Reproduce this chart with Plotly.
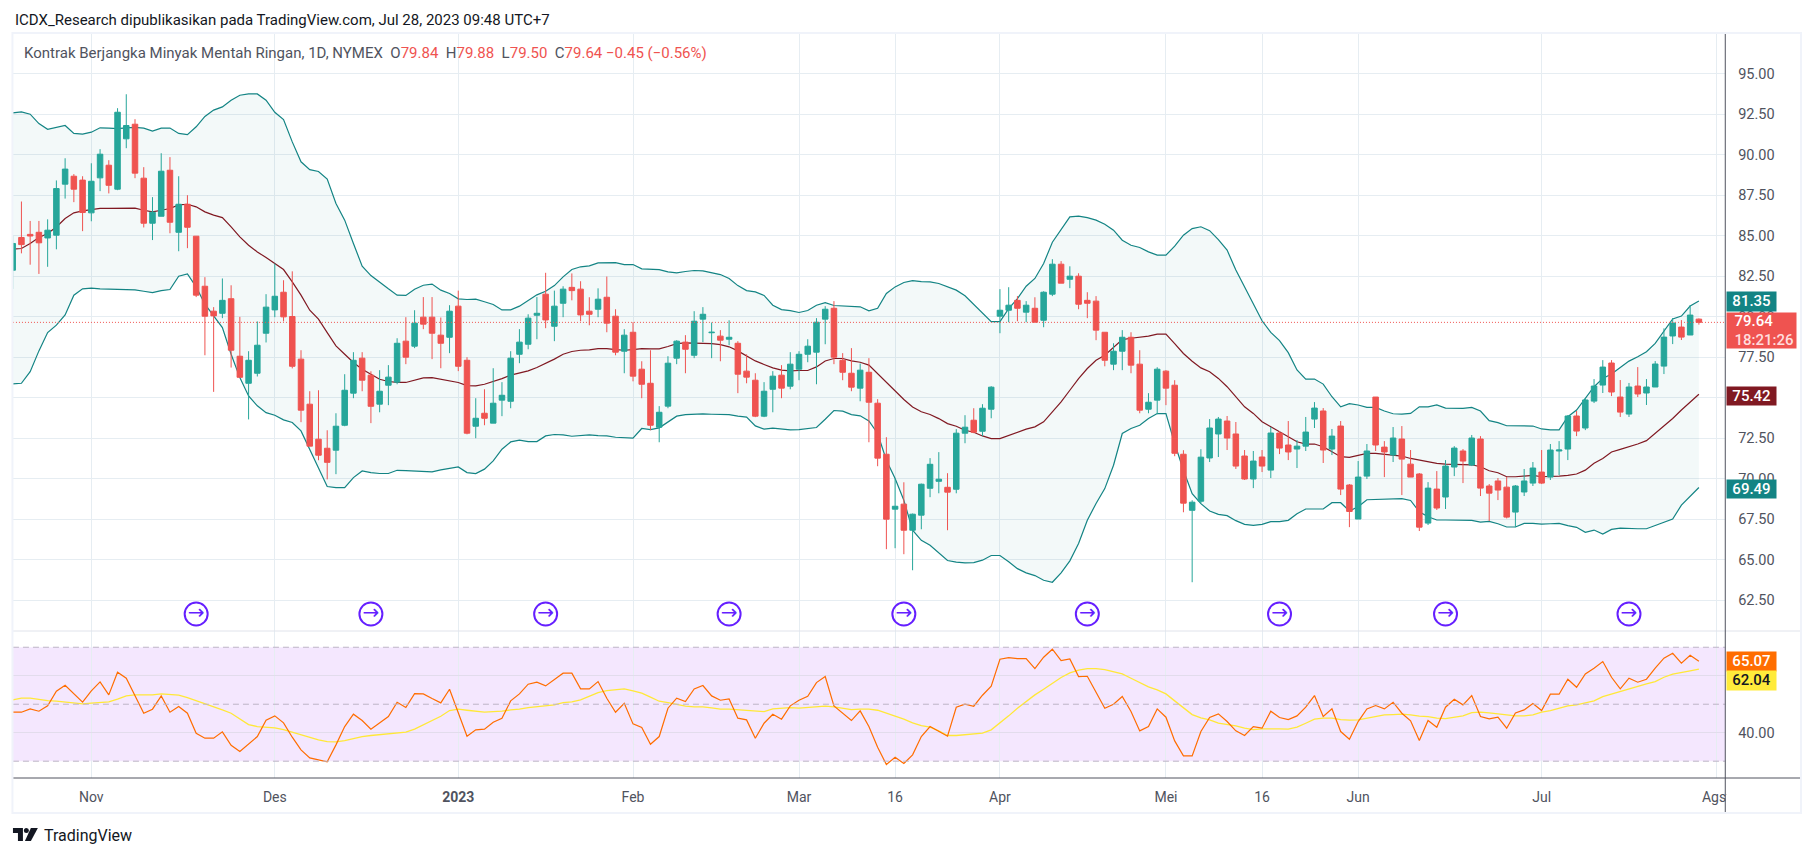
import pandas as pd
import plotly.graph_objects as go

W, H = 1815, 857

holidays = ["2022-11-24", "2022-12-26", "2023-01-02", "2023-01-16", "2023-02-20",
            "2023-04-07", "2023-05-29", "2023-06-19", "2023-07-04"]
all_days = [d.strftime("%Y-%m-%d") for d in pd.bdate_range("2022-10-19", "2023-08-03")]
all_days = [d for d in all_days if d not in holidays]
dates = all_days[:194]

open_ = [82.86, 84.88, 85.07, 85.2, 84.85, 85.02, 88.17, 88.66, 88.42, 86.4,
         88.56, 89.34, 87.86, 90.97, 91.87, 88.54, 85.76, 86.19, 89.03, 85.2,
         86.93, 84.96, 81.87, 80.33, 80.2, 81.1, 77.55, 75.88, 76.5, 78.97,
         80.41, 81.5, 80.0, 77.37, 74.59, 72.43, 71.87, 71.75, 73.29, 75.27,
         77.43, 76.38, 74.59, 75.76, 75.95, 78.48, 78.17, 79.96, 79.96, 78.85,
         78.72, 80.64, 77.3, 73.23, 74.03, 73.42, 74.84, 74.77, 77.67, 78.29,
         80.08, 81.38, 79.4, 80.82, 81.8, 81.69, 80.33, 80.45, 81.19, 80.02,
         77.86, 79.03, 76.75, 75.88, 73.17, 74.47, 77.43, 78.42, 77.61, 79.84,
         79.0, 78.79, 78.6, 78.35, 76.63, 76.07, 73.85, 75.51, 76.38, 75.7,
         76.75, 77.67, 77.8, 79.84, 80.51, 77.3, 76.5, 75.58, 76.56, 74.65,
         71.5, 68.11, 68.42, 66.81, 67.74, 69.4, 69.83, 69.46, 69.34, 72.8,
         73.6, 72.92, 74.28, 80.02, 80.39, 81.0, 80.27, 80.51, 79.77, 81.38,
         83.23, 82.3, 82.49, 81.0, 80.95, 79.03, 77.06, 77.86, 78.72, 77.06,
         74.28, 74.84, 76.63, 75.76, 71.5, 68.04, 68.6, 71.27, 72.75, 73.55,
         72.75, 71.39, 69.97, 71.33, 70.52, 72.81, 72.07, 71.82, 72.0, 73.67,
         74.17, 71.82, 73.24, 69.6, 67.5, 70.15, 75.03, 71.94, 71.45, 72.44,
         70.89, 70.28, 67.25, 69.35, 68.86, 70.71, 71.7, 70.83, 72.44, 69.54,
         69.85, 69.47, 67.93, 69.17, 69.72, 70.4, 70.09, 71.7, 71.82, 73.86,
         73.12, 74.78, 75.77, 77.13, 75.03, 73.98, 75.71, 75.28, 75.65, 76.94,
         78.8, 79.35, 78.86, 79.84]
high = [85.0, 87.1, 85.9, 85.9, 86.0, 88.4, 89.77, 88.79, 88.66, 89.46,
        90.33, 89.65, 92.86, 93.72, 92.18, 89.22, 87.37, 90.08, 89.84, 88.66,
        87.49, 84.96, 82.43, 80.58, 82.35, 81.93, 79.98, 77.86, 79.7, 81.38,
        83.27, 82.24, 82.79, 77.92, 75.39, 75.45, 72.98, 74.03, 76.44, 77.8,
        77.8, 76.62, 76.69, 77.0, 78.66, 79.96, 80.39, 81.2, 81.2, 79.94,
        80.7, 81.6, 77.49, 74.96, 75.51, 76.81, 75.95, 77.86, 79.22, 80.14,
        81.2, 82.7, 81.6, 81.87, 82.66, 82.18, 81.19, 81.74, 82.47, 80.45,
        79.22, 79.65, 77.24, 77.92, 74.47, 77.55, 78.54, 78.85, 80.33, 80.58,
        79.63, 79.16, 79.77, 78.48, 77.67, 76.5, 75.95, 76.63, 77.0, 77.8,
        77.86, 78.6, 79.9, 80.64, 80.95, 77.74, 78.05, 77.1, 77.43, 74.9,
        72.55, 70.0, 69.77, 67.84, 69.69, 71.26, 71.63, 70.33, 73.05, 73.91,
        74.34, 74.59, 75.7, 81.69, 81.81, 81.26, 80.95, 81.19, 81.56, 83.54,
        83.42, 83.1, 82.67, 81.5, 81.26, 79.03, 78.35, 79.16, 79.03, 77.92,
        75.27, 76.87, 76.69, 76.07, 71.75, 68.66, 71.81, 73.67, 73.8, 73.86,
        73.49, 71.76, 71.7, 71.76, 73.18, 72.93, 73.55, 72.38, 73.8, 74.72,
        74.35, 73.06, 73.55, 69.66, 71.08, 72.13, 75.03, 72.31, 73.18, 73.24,
        71.76, 70.34, 69.78, 70.46, 71.14, 72.0, 71.82, 72.69, 72.62, 69.66,
        70.03, 70.09, 69.6, 70.59, 71.02, 71.76, 72.13, 72.31, 73.92, 74.17,
        74.97, 76.14, 77.31, 77.31, 76.08, 75.9, 76.88, 76.14, 77.25, 79.27,
        79.91, 79.78, 80.71, 79.88]
low = [81.7, 83.9, 83.2, 82.63, 83.07, 84.15, 87.28, 87.06, 85.27, 85.88,
       87.74, 87.6, 87.8, 90.39, 88.54, 85.5, 84.72, 86.19, 85.14, 84.03,
       84.22, 81.2, 77.61, 75.35, 79.9, 76.85, 76.25, 73.65, 76.3, 78.4,
       79.96, 79.7, 76.8, 73.48, 72.0, 71.13, 69.95, 70.27, 73.23, 74.96,
       75.39, 73.42, 74.09, 74.53, 75.82, 77.06, 78.05, 79.22, 77.37, 76.81,
       77.74, 76.63, 72.73, 72.49, 73.29, 73.42, 73.85, 74.34, 77.12, 77.98,
       78.6, 79.28, 78.48, 79.96, 81.0, 79.71, 79.46, 79.96, 79.03, 77.61,
       76.5, 76.0, 74.96, 72.98, 72.24, 74.34, 77.06, 76.5, 77.43, 78.42,
       77.43, 77.24, 78.23, 75.27, 75.88, 73.79, 73.79, 74.09, 74.96, 75.51,
       76.07, 77.18, 75.82, 78.29, 77.06, 76.07, 75.39, 74.77, 72.24, 70.76,
       65.64, 65.7, 65.33, 64.34, 66.87, 68.85, 69.09, 66.81, 69.09, 72.18,
       72.8, 72.61, 73.72, 78.97, 79.65, 79.71, 79.65, 79.65, 79.34, 81.26,
       82.06, 81.75, 80.45, 79.9, 78.54, 76.93, 76.69, 76.69, 76.5, 74.03,
       74.03, 73.97, 74.53, 71.38, 67.92, 63.6, 68.48, 71.02, 71.33, 71.76,
       70.59, 69.91, 69.41, 70.4, 70.03, 71.51, 71.14, 70.65, 71.7, 73.12,
       70.96, 71.45, 68.98, 67.0, 67.5, 69.97, 71.7, 70.09, 71.02, 68.98,
       70.09, 66.76, 67.13, 68.06, 68.12, 70.15, 69.72, 70.77, 68.92, 67.38,
       68.67, 67.54, 67.0, 68.92, 69.54, 69.66, 69.91, 70.22, 71.14, 72.62,
       72.99, 74.66, 75.28, 75.09, 73.8, 73.8, 75.03, 74.54, 75.65, 76.45,
       78.3, 78.55, 78.86, 79.5]
close = [84.51, 84.44, 84.97, 84.55, 85.33, 87.9, 89.1, 87.86, 86.42, 88.35,
         90.02, 88.1, 92.61, 91.79, 88.85, 85.76, 86.44, 88.97, 85.82, 86.93,
         85.51, 81.32, 80.02, 80.04, 81.0, 77.92, 76.25, 77.3, 78.23, 80.58,
         81.25, 79.98, 76.93, 74.22, 72.0, 71.44, 71.0, 73.23, 75.45, 77.3,
         76.07, 74.46, 75.39, 76.26, 78.35, 77.49, 79.59, 79.53, 78.97, 78.35,
         80.33, 76.93, 72.8, 73.72, 73.72, 74.65, 75.14, 77.43, 78.42, 79.9,
         80.2, 79.79, 80.64, 81.69, 81.6, 80.1, 80.14, 81.07, 79.59, 77.8,
         78.85, 76.32, 75.82, 73.29, 74.09, 77.12, 78.48, 77.98, 79.71, 80.14,
         79.03, 78.54, 78.72, 76.44, 76.26, 73.85, 75.39, 76.32, 75.58, 77.06,
         77.67, 78.17, 79.65, 80.45, 77.49, 76.56, 75.64, 76.69, 74.71, 71.26,
         67.49, 68.29, 66.81, 67.8, 69.65, 70.88, 69.96, 69.16, 72.8, 73.17,
         72.86, 74.34, 75.64, 80.39, 80.7, 80.51, 80.7, 79.65, 81.5, 83.23,
         82.06, 82.49, 80.76, 80.82, 79.16, 77.3, 77.86, 78.72, 77.0, 74.22,
         74.71, 76.75, 75.58, 71.56, 68.48, 68.54, 71.32, 73.12, 73.67, 72.5,
         70.77, 69.97, 71.08, 70.77, 72.81, 71.88, 71.64, 72.0, 72.87, 74.35,
         71.76, 72.62, 69.35, 67.97, 70.09, 71.7, 72.07, 71.64, 72.5, 71.2,
         70.09, 67.0, 69.41, 68.18, 70.77, 71.88, 71.08, 72.5, 69.41, 69.1,
         69.29, 67.62, 69.54, 69.85, 70.65, 69.72, 71.76, 71.76, 73.86, 72.93,
         74.85, 75.71, 76.88, 75.34, 74.1, 75.65, 75.22, 75.65, 77.07, 78.73,
         79.6, 78.73, 80.09, 79.64]

bb_upper = [92.57, 92.63, 92.49, 91.91, 91.56, 91.69, 91.79, 91.3, 91.26, 91.38,
            91.65, 91.63, 91.6, 91.65, 91.67, 91.63, 91.44, 91.63, 91.63, 91.3,
            91.23, 91.71, 92.35, 92.74, 92.94, 93.35, 93.66, 93.74, 93.74, 93.35,
            92.61, 92.16, 90.78, 89.55, 89.07, 88.95, 88.48, 86.98, 85.95, 84.51,
            83.11, 82.53, 82.1, 81.71, 81.32, 81.3, 81.69, 81.93, 82.0, 81.63,
            81.42, 81.09, 81.05, 81.07, 80.91, 80.74, 80.41, 80.41, 80.64, 81.01,
            81.34, 81.56, 81.91, 82.45, 82.9, 83.07, 83.13, 83.31, 83.33, 83.33,
            83.21, 83.21, 82.94, 82.94, 82.9, 82.76, 82.7, 82.78, 82.84, 82.82,
            82.7, 82.59, 82.35, 81.91, 81.6, 81.52, 81.3, 80.7, 80.43, 80.37,
            80.25, 80.37, 80.7, 80.86, 80.68, 80.66, 80.64, 80.6, 80.35, 80.51,
            81.42, 81.83, 82.1, 82.22, 82.16, 82.14, 82.04, 81.83, 81.63, 81.28,
            80.76, 80.25, 79.69, 79.69, 80.49, 81.11, 81.87, 82.35, 83.27, 84.59,
            85.4, 86.15, 86.2, 86.1, 85.95, 85.7, 85.33, 84.71, 84.4, 84.26,
            83.99, 83.79, 83.79, 84.34, 85.02, 85.43, 85.54, 85.3, 84.75, 84.1,
            82.87, 81.84, 80.81, 79.74, 79.02, 78.51, 77.77, 76.7, 76.14, 76.14,
            75.83, 75.05, 74.43, 74.62, 74.54, 74.39, 74.39, 74.17, 74.0, 73.98,
            74.02, 74.43, 74.43, 74.54, 74.35, 74.33, 74.33, 74.39, 74.17, 73.57,
            73.45, 73.26, 73.26, 73.22, 73.24, 73.06, 73.01, 73.01, 73.82, 74.23,
            74.95, 75.67, 76.18, 76.45, 76.86, 77.25, 77.52, 77.83, 78.34, 79.06,
            79.85, 80.03, 80.65, 80.96]
bb_basis = [84.16, 84.2, 84.51, 84.88, 85.12, 85.53, 86.05, 86.4, 86.52, 86.6,
            86.67, 86.67, 86.67, 86.69, 86.69, 86.56, 86.46, 86.56, 86.67, 86.89,
            86.93, 86.77, 86.46, 86.26, 86.11, 85.53, 84.92, 84.4, 83.99, 83.64,
            83.27, 82.9, 82.14, 81.32, 80.39, 79.84, 79.01, 78.19, 77.67, 77.16,
            76.75, 76.44, 76.13, 75.99, 75.93, 75.93, 76.09, 76.21, 76.23, 76.13,
            76.07, 75.93, 75.74, 75.72, 75.82, 75.99, 76.17, 76.38, 76.5, 76.65,
            76.85, 77.1, 77.37, 77.67, 77.84, 77.92, 77.94, 78.02, 78.02, 77.96,
            77.92, 77.96, 78.02, 78.0, 78.0, 78.15, 78.33, 78.37, 78.37, 78.37,
            78.33, 78.27, 78.13, 77.88, 77.55, 77.26, 77.04, 76.83, 76.69, 76.65,
            76.67, 76.67, 76.89, 77.26, 77.41, 77.41, 77.26, 77.18, 77.0, 76.48,
            75.91, 75.41, 74.88, 74.42, 74.12, 73.95, 73.7, 73.39, 73.23, 72.98,
            72.86, 72.63, 72.47, 72.47, 72.67, 72.84, 73.05, 73.19, 73.5, 74.12,
            74.73, 75.45, 76.17, 76.79, 77.3, 77.61, 78.09, 78.58, 78.66, 78.72,
            78.79, 78.91, 78.91, 78.33, 77.72, 77.24, 76.83, 76.59, 76.18, 75.67,
            75.05, 74.43, 74.02, 73.51, 73.2, 72.89, 72.58, 72.27, 72.13, 72.13,
            71.96, 71.66, 71.35, 71.31, 71.45, 71.55, 71.55, 71.51, 71.45, 71.39,
            71.24, 71.14, 71.04, 70.94, 70.89, 70.89, 70.85, 70.85, 70.73, 70.48,
            70.36, 70.11, 70.11, 70.15, 70.2, 70.11, 70.11, 70.15, 70.2, 70.28,
            70.52, 70.94, 71.24, 71.64, 71.8, 71.96, 72.13, 72.34, 72.79, 73.24,
            73.71, 74.23, 74.74, 75.2]
bb_lower = [75.84, 75.88, 76.6, 77.88, 79.01, 79.47, 80.1, 81.32, 81.71, 81.75,
            81.71, 81.69, 81.69, 81.69, 81.65, 81.56, 81.48, 81.6, 81.67, 82.49,
            82.63, 81.83, 80.76, 80.04, 79.32, 77.67, 76.23, 75.1, 74.49, 74.07,
            73.91, 73.62, 73.46, 72.94, 71.81, 70.58, 69.51, 69.44, 69.44, 70.06,
            70.47, 70.37, 70.31, 70.31, 70.51, 70.49, 70.47, 70.43, 70.41, 70.53,
            70.64, 70.72, 70.37, 70.31, 70.58, 71.09, 71.81, 72.26, 72.37, 72.28,
            72.28, 72.63, 72.72, 72.7, 72.61, 72.67, 72.7, 72.65, 72.63, 72.55,
            72.53, 72.49, 73.09, 73.02, 73.13, 73.5, 73.85, 73.95, 73.99, 73.99,
            73.97, 73.95, 73.95, 73.85, 73.79, 73.25, 73.05, 73.11, 73.05, 73.0,
            73.02, 73.07, 73.15, 73.66, 74.2, 74.16, 73.95, 73.87, 73.56, 72.78,
            71.13, 70.0, 68.66, 66.81, 66.19, 65.88, 65.41, 64.94, 64.84, 64.79,
            64.81, 64.96, 65.25, 65.25, 64.86, 64.44, 64.18, 64.01, 63.72, 63.6,
            64.18, 64.92, 65.99, 67.43, 68.46, 69.38, 70.82, 72.78, 73.09, 73.29,
            73.7, 74.01, 74.01, 72.16, 70.51, 69.07, 68.45, 68.0, 67.79, 67.71,
            67.4, 67.17, 67.11, 67.17, 67.34, 67.34, 67.42, 67.83, 68.12, 68.12,
            68.12, 68.51, 68.51, 68.0, 68.26, 68.69, 68.71, 68.73, 68.78, 68.76,
            68.65, 67.95, 67.64, 67.44, 67.44, 67.44, 67.44, 67.42, 67.31, 67.36,
            67.21, 67.01, 67.01, 67.23, 67.23, 67.19, 67.21, 67.23, 67.09, 66.99,
            66.68, 66.82, 66.57, 66.86, 66.94, 66.9, 66.9, 66.9, 67.11, 67.31,
            67.5, 68.36, 68.88, 69.45]

rsi = [47.19, 47.19, 48.36, 47.54, 49.42, 54.56, 56.67, 53.63, 50.7, 54.68,
       57.84, 53.27, 61.23, 59.12, 52.69, 46.84, 48.25, 52.92, 47.19, 49.18,
       46.84, 39.82, 38.07, 38.07, 40.29, 35.61, 33.39, 35.96, 38.65, 44.39,
       45.91, 43.45, 38.42, 33.98, 31.17, 30.47, 29.77, 35.73, 42.16, 46.49,
       44.27, 41.23, 43.45, 45.67, 50.7, 48.83, 53.74, 53.63, 51.99, 50.47,
       55.26, 46.84, 38.77, 40.99, 41.23, 43.68, 45.09, 51.17, 53.63, 57.02,
       57.72, 56.43, 58.54, 60.88, 60.88, 55.38, 55.38, 57.95, 52.11, 47.19,
       50.35, 43.1, 41.81, 35.96, 38.65, 48.6, 52.11, 50.94, 55.38, 56.55,
       52.92, 51.4, 51.87, 45.09, 44.5, 38.07, 43.33, 46.49, 44.74, 49.42,
       51.4, 52.81, 57.6, 59.71, 49.42, 46.84, 44.27, 47.66, 42.16, 34.91,
       28.83, 31.4, 29.18, 32.22, 38.65, 42.16, 40.41, 38.77, 48.95, 50.0,
       49.3, 53.16, 56.32, 65.79, 66.37, 66.02, 66.02, 62.51, 66.49, 69.3,
       65.32, 65.91, 59.71, 59.82, 54.21, 48.6, 50.0, 52.69, 47.43, 40.64,
       42.16, 48.36, 45.44, 37.13, 31.87, 31.87, 40.41, 45.32, 46.61, 43.92,
       40.64, 39.01, 42.16, 41.58, 47.54, 45.32, 44.62, 45.91, 48.95, 53.04,
       45.67, 48.36, 40.41, 37.72, 43.92, 48.36, 49.53, 48.36, 50.7, 46.84,
       44.15, 37.25, 44.27, 41.93, 48.95, 51.75, 49.77, 53.04, 45.67, 44.85,
       45.44, 41.58, 46.96, 48.01, 50.23, 47.78, 53.51, 53.51, 58.77, 55.96,
       60.64, 62.63, 64.97, 59.47, 55.38, 59.12, 57.72, 58.77, 62.63, 66.14,
       67.89, 64.39, 67.19, 65.07]
rsi_ma = [51.52, 52.11, 52.11, 51.64, 51.29, 51.05, 50.7, 50.35, 50.12, 50.35,
          50.58, 50.82, 51.75, 52.92, 53.27, 53.27, 53.27, 53.63, 53.51, 53.16,
          52.34, 51.29, 50.35, 49.18, 48.01, 46.84, 44.74, 42.87, 42.16, 42.05,
          41.7, 41.11, 40.18, 39.25, 38.19, 37.49, 36.9, 36.78, 37.25, 38.07,
          38.65, 39.01, 39.36, 39.59, 39.82, 40.18, 41.23, 42.75, 44.27, 45.79,
          47.78, 48.25, 47.89, 47.43, 47.19, 47.43, 47.54, 48.01, 48.25, 48.83,
          49.06, 49.3, 49.77, 50.58, 50.82, 51.52, 52.92, 54.09, 54.8, 55.03,
          55.38, 54.68, 53.86, 52.46, 51.05, 50.58, 50.0, 49.3, 49.06, 49.06,
          48.71, 48.25, 48.25, 48.01, 47.66, 47.43, 47.43, 48.36, 48.71, 48.83,
          48.6, 48.83, 49.06, 49.3, 49.06, 48.71, 48.13, 48.25, 48.25, 47.89,
          46.73, 45.79, 44.74, 43.45, 42.51, 41.93, 40.64, 39.01, 39.01, 39.25,
          39.47, 39.82, 40.99, 43.33, 45.91, 48.6, 51.05, 53.27, 55.26, 57.25,
          59.36, 60.99, 61.93, 62.51, 62.51, 62.16, 61.46, 60.64, 59.12, 57.49,
          56.08, 55.03, 53.63, 51.17, 48.6, 46.37, 45.2, 44.5, 43.33, 42.98,
          42.4, 41.58, 41.11, 41.35, 41.46, 41.35, 41.23, 41.93, 43.33, 44.74,
          45.09, 45.09, 44.62, 44.39, 44.5, 45.09, 45.79, 46.26, 46.37, 46.49,
          46.26, 45.79, 45.67, 45.09, 44.97, 45.32, 45.91, 47.08, 47.19, 46.96,
          46.73, 46.26, 45.91, 45.91, 46.26, 47.19, 47.78, 48.6, 49.42, 49.77,
          50.35, 51.17, 52.69, 53.63, 54.33, 55.5, 56.32, 57.13, 57.95, 59.47,
          60.53, 61.23, 61.7, 62.28]

roll_idx = [21, 41, 61, 82, 102, 123, 145, 164, 185]
roll_y = [61.64] * len(roll_idx)
last_close = 79.64

tick_dates = ["2022-11-01", "2022-12-01", "2023-01-03", "2023-02-01", "2023-03-01", "2023-03-16",
              "2023-04-03", "2023-05-01", "2023-05-16", "2023-06-01", "2023-07-03", "2023-08-01"]
tick_text = ["Nov", "Des", "<b>2023</b>", "Feb", "Mar", "16", "Apr", "Mei", "16", "Jun", "Jul", "Agst"]
price_ticks = [62.5, 65, 67.5, 70, 72.5, 75, 77.5, 80, 82.5, 85, 87.5, 90, 92.5, 95]

GREEN = "#26a69a"
RED = "#ef5350"
TEAL = "#138484"
MAROON = "#801922"
ORANGE = "#ff6d00"
YELLOW = "#ffeb3b"
PURPLE = "#651fff"
GRID = "#e6edf2"
FONT = "Roboto"
AXIS_X = 1731
RIGHT_X = 1807
price_range = [60.59, 97.47]
rsi_range = [24.1, 75.7]
x_range = [0.03, 196.02]


def fx(p):
    return p / W


def fy(p):
    return 1 - p / H


fig = go.Figure()

# bands first, candles sit on an overlay axis so they are drawn over the lines
fig.add_trace(go.Scatter(x=dates, y=bb_upper, mode="lines", line=dict(color=TEAL, width=1.2), showlegend=False))
fig.add_trace(go.Scatter(x=dates, y=bb_lower, mode="lines", line=dict(color=TEAL, width=1.2), showlegend=False,
                         fill="tonexty", fillcolor="rgba(19,132,132,0.05)"))
fig.add_trace(go.Scatter(x=dates, y=bb_basis, mode="lines", line=dict(color=MAROON, width=1.2), showlegend=False))

fig.add_trace(go.Candlestick(x=dates, open=open_, high=high, low=low, close=close, yaxis="y3",
                             increasing=dict(line=dict(color=GREEN, width=1), fillcolor=GREEN),
                             decreasing=dict(line=dict(color=RED, width=1), fillcolor=RED),
                             whiskerwidth=0, showlegend=False))

fig.add_trace(go.Scatter(x=[dates[i] for i in roll_idx], y=roll_y, yaxis="y3", mode="markers+text",
                         marker=dict(symbol="circle-open", size=23, color=PURPLE, line=dict(color=PURPLE, width=2)),
                         text=["→"] * len(roll_idx), textposition="middle center",
                         textfont=dict(family="DejaVu Sans", size=20, color=PURPLE), showlegend=False))

fig.add_trace(go.Scatter(x=dates, y=rsi_ma, yaxis="y2", mode="lines", line=dict(color="#ffe838", width=1.3), showlegend=False))
fig.add_trace(go.Scatter(x=dates, y=rsi, yaxis="y2", mode="lines", line=dict(color=ORANGE, width=1.2), showlegend=False))

shapes = [
    # rsi band and levels
    dict(type="rect", xref="x domain", yref="y2", x0=0, x1=1, y0=30, y1=70, layer="below",
         fillcolor="rgba(156,39,246,0.11)", line=dict(width=0)),
    dict(type="line", xref="x domain", yref="y2", x0=0, x1=1, y0=70, y1=70, line=dict(color="#bdb5c6", width=1, dash="6px,4px")),
    dict(type="line", xref="x domain", yref="y2", x0=0, x1=1, y0=50, y1=50, line=dict(color="#bdb5c6", width=1, dash="6px,4px")),
    dict(type="line", xref="x domain", yref="y2", x0=0, x1=1, y0=30, y1=30, line=dict(color="#bdb5c6", width=1, dash="6px,4px")),
    # last price
    dict(type="line", xref="x domain", yref="y", x0=0, x1=1, y0=last_close, y1=last_close,
         line=dict(color=RED, width=1, dash="1px,2px")),
    # hide the part of the last time label under the price scale
    dict(type="rect", xref="paper", yref="paper", x0=fx(AXIS_X + 1), x1=fx(RIGHT_X - 2), y0=fy(810), y1=fy(779),
         fillcolor="white", line=dict(width=0)),
    # pane separator, scale lines, frame
    dict(type="line", xref="paper", yref="paper", x0=fx(13), x1=fx(RIGHT_X), y0=fy(631), y1=fy(631), line=dict(color="#e0e3eb", width=1)),
    dict(type="line", xref="paper", yref="paper", x0=fx(13), x1=fx(RIGHT_X), y0=fy(778), y1=fy(778), line=dict(color="#50535e", width=1)),
    dict(type="line", xref="paper", yref="paper", x0=fx(AXIS_X), x1=fx(AXIS_X), y0=fy(34), y1=fy(813), line=dict(color="#50535e", width=1)),
    dict(type="rect", xref="paper", yref="paper", x0=fx(12.5), x1=fx(RIGHT_X), y0=fy(813), y1=fy(33), line=dict(color="#f0f3fa", width=2)),
    # logo
    dict(type="path", xref="paper", yref="paper", fillcolor="#131722", line=dict(width=0),
         path="M %f %f L %f %f L %f %f L %f %f L %f %f L %f %f Z" % (
             fx(13), fy(828), fx(23), fy(828), fx(23), fy(841), fx(18), fy(841), fx(18), fy(833), fx(13), fy(833))),
    dict(type="circle", xref="paper", yref="paper", fillcolor="#131722", line=dict(width=0),
         x0=fx(24), x1=fx(29), y0=fy(833), y1=fy(828)),
    dict(type="path", xref="paper", yref="paper", fillcolor="#131722", line=dict(width=0),
         path="M %f %f L %f %f L %f %f L %f %f Z" % (
             fx(31), fy(828), fx(38), fy(828), fx(31), fy(841), fx(25), fy(841))),
]


def add_label(text, y0, y1, bg, color, width=49, align="center"):
    fig.add_annotation(xref="paper", yref="paper", x=fx(AXIS_X + 0.5), y=fy((y0 + y1) / 2), text=text, showarrow=False,
                       xanchor="left", yanchor="middle", align=align, width=width, height=y1 - y0,
                       bgcolor=bg, borderpad=0, font=dict(family=FONT, size=15, color=color, weight=500))


add_label("81.35", 292.3, 311, TEAL, "white")
add_label("&#160;&#160;79.64<br>&#160;&#160;<span style='color:#fdd'>18:21:26</span>", 313, 347.7, RED, "white", width=69, align="left")
add_label("75.42", 386.3, 404.7, MAROON, "white")
add_label("69.49", 479.3, 497.7, TEAL, "white")
add_label("65.07", 652.3, 671, ORANGE, "white")
add_label("62.04", 671, 689.7, YELLOW, "#131722")

fig.add_annotation(xref="paper", yref="paper", x=fx(13), y=fy(20), xanchor="left", yanchor="middle", showarrow=False,
                   text="ICDX_Research dipublikasikan pada TradingView.com, Jul 28, 2023 09:48 UTC+7",
                   font=dict(family=FONT, size=15, color="#131722"))
red_span = "<span style='color:%s'>%%s</span>" % RED
fig.add_annotation(xref="paper", yref="paper", x=fx(22), y=fy(53), xanchor="left", yanchor="middle", showarrow=False,
                   text="Kontrak Berjangka Minyak Mentah Ringan, 1D, NYMEX &#160;O" + red_span % "79.84"
                        + " &#160;H" + red_span % "79.88" + " &#160;L" + red_span % "79.50"
                        + " &#160;C" + red_span % "79.64" + " " + red_span % "−0.45 (−0.56%)",
                   font=dict(family=FONT, size=15, color="#50535e"))
fig.add_annotation(xref="paper", yref="paper", x=fx(42), y=fy(835), xanchor="left", yanchor="middle", showarrow=False,
                   text="TradingView", font=dict(family=FONT, size=16, color="#131722"))

fig.update_layout(
    width=W, height=H, autosize=False, margin=dict(l=0, r=0, t=0, b=0),
    paper_bgcolor="white", plot_bgcolor="white", showlegend=False, hovermode=False, boxgap=0.1,
    shapes=shapes,
    xaxis=dict(type="category", categoryorder="array", categoryarray=all_days, range=x_range, anchor="y2",
               domain=[fx(13), fx(AXIS_X)], tickmode="array", tickvals=tick_dates, ticktext=tick_text,
               showgrid=True, gridcolor=GRID, gridwidth=1, zeroline=False, ticks="outside", ticklen=6,
               tickcolor="rgba(0,0,0,0)", tickfont=dict(family=FONT, size=14, color="#50535e"),
               rangeslider=dict(visible=False), showline=False),
    yaxis=dict(domain=[fy(631), fy(33.5)], range=price_range, side="right", anchor="x", tickmode="array",
               tickvals=price_ticks, ticktext=["%.2f" % v for v in price_ticks], showgrid=True, gridcolor=GRID,
               zeroline=False, ticks="outside", ticklen=9, tickcolor="rgba(0,0,0,0)",
               tickfont=dict(family=FONT, size=14.5, color="#50535e")),
    yaxis2=dict(domain=[fy(778), fy(631)], range=rsi_range, side="right", anchor="x", tickmode="array",
                tickvals=[40, 60], ticktext=["40.00", ""], showgrid=True, gridcolor="#e2dcec",
                zeroline=False, ticks="outside", ticklen=9, tickcolor="rgba(0,0,0,0)",
                tickfont=dict(family=FONT, size=14.5, color="#50535e")),
    yaxis3=dict(overlaying="y", range=price_range, side="right", anchor="x", visible=False, showgrid=False),
)

fig.write_html("out.html", post_script="document.body.style.margin='0';", config={"displayModeBar": False})
